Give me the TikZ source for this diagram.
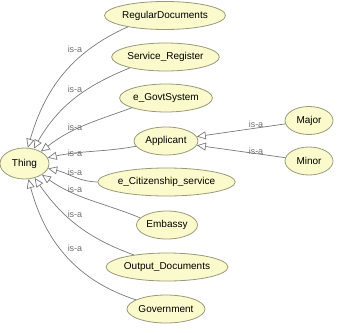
\documentclass[tikz,border=0pt]{standalone}
\usepackage{fontspec}
\setmainfont{Liberation Sans}
\usetikzlibrary{shapes.geometric,arrows.meta}
\definecolor{cfill}{HTML}{FAFACC}
\definecolor{cborder}{HTML}{9A9A7A}
\definecolor{cedge}{HTML}{7A7A7A}
\definecolor{clabel}{HTML}{6E6E6E}
\tikzset{
  cls/.style={ellipse, draw=cborder, fill=cfill, line width=0.8pt, inner sep=0pt,
    minimum height=28pt, font=\fontsize{10}{12}\selectfont},
  isa/.style={draw=cedge, line width=0.7pt, -{Triangle[open, length=9pt, width=8pt]}},
  lbl/.style={font=\fontsize{9}{10}\selectfont, text=clabel, inner sep=0pt}
}
\begin{document}
\begin{tikzpicture}[x=1pt,y=-1pt]
\useasboundingbox (0,0) rectangle (342,332);
\node[cls, minimum width=108pt] (rd) at (165,15.5) {RegularDocuments};
\node[cls, minimum width=100pt] (sr) at (165.5,57) {Service\_Register};
\node[cls, minimum width=88pt] (eg) at (166,98) {e\_GovtSystem};
\node[cls, minimum width=64pt] (ap) at (166,141) {Applicant};
\node[cls, minimum width=123pt] (ec) at (166.5,182) {e\_Citizenship\_service};
\node[cls, minimum width=61pt] (em) at (167,225) {Embassy};
\node[cls, minimum width=112pt] (od) at (167,267) {Output\_Documents};
\node[cls, minimum width=78pt] (gv) at (166,309) {Government};
\node[cls, minimum width=49pt, minimum height=31pt] (th) at (24.5,163.5) {Thing};
\node[cls, minimum width=48pt] (ma) at (309,120.5) {Major};
\node[cls, minimum width=48pt] (mi) at (309,161) {Minor};

\draw[isa] (rd.197) to[out=204, in=74] (th.78);
\draw[isa] (sr.197) to[out=202, in=60] (th.58);
\draw[isa] (eg.196) to[out=200, in=38] (th.36);
\draw[isa] (ap.190) to[out=190, in=12] (th.14);
\draw[isa] (ec.180) to[out=178, in=-12] (th.-12);
\draw[isa] (em.165) to[out=158, in=-35] (th.-33);
\draw[isa] (od.160) to[out=160, in=-55] (th.-55);
\draw[isa] (gv.163) to[out=162, in=-75] (th.-76);
\draw[isa] (ma) -- (ap);
\draw[isa] (mi) -- (ap);

\node[lbl] (l1) at (75,49) {is-a};
\node[lbl] (l2) at (75,89) {is-a};
\node[lbl] (l3) at (75,127) {is-a};
\node[lbl] (l4) at (75,153) {is-a};
\node[lbl] (l5) at (75,172) {is-a};
\node[lbl] (l6) at (75,189) {is-a};
\node[lbl] (l7) at (75,214) {is-a};
\node[lbl] (l8) at (75,248) {is-a};
\node[lbl] (l9) at (256,124) {is-a};
\node[lbl] (l10) at (256,151) {is-a};
\end{tikzpicture}
\end{document}
